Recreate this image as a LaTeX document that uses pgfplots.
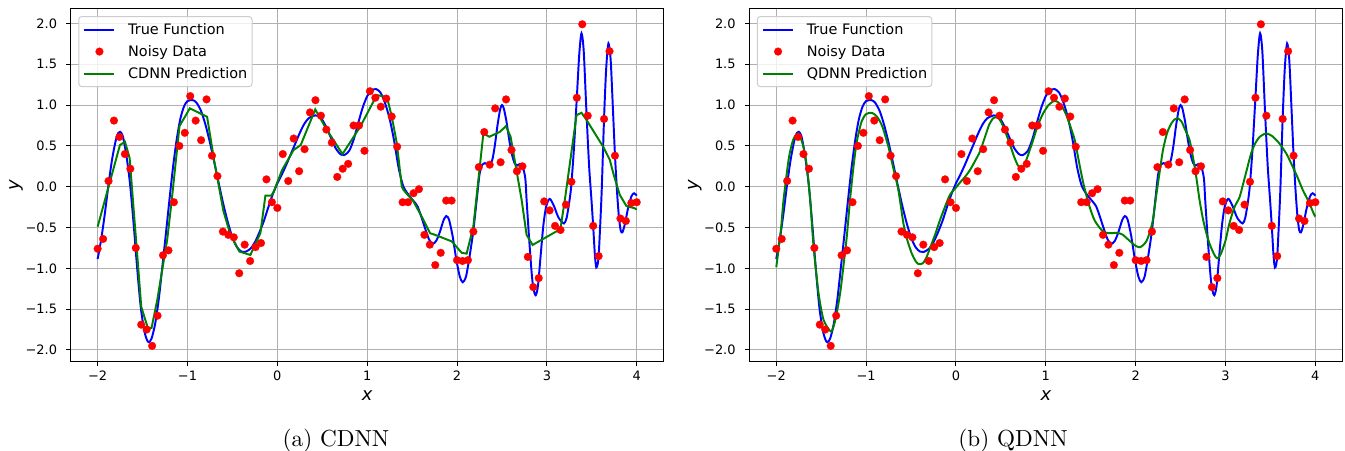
\documentclass[border=0pt]{standalone}
\usepackage{fontspec}
\usepackage{pgfplots}
\usepackage{pgfplotstable}
\pgfplotsset{compat=1.18}
\newfontfamily\mpl{DejaVu Sans}

\definecolor{mplgrid}{HTML}{B0B0B0}
\definecolor{mplgreen}{rgb}{0,0.5,0}
\definecolor{legedge}{HTML}{CCCCCC}

% noisy samples, 100 points on [-2,4]
\pgfplotstableread{
x y
-2.0000 -0.76
-1.9394 -0.64
-1.8788 0.07
-1.8182 0.81
-1.7576 0.61
-1.6970 0.40
-1.6364 0.22
-1.5758 -0.75
-1.5152 -1.69
-1.4545 -1.75
-1.3939 -1.95
-1.3333 -1.58
-1.2727 -0.84
-1.2121 -0.78
-1.1515 -0.19
-1.0909 0.50
-1.0303 0.66
-0.9697 1.11
-0.9091 0.81
-0.8485 0.57
-0.7879 1.07
-0.7273 0.38
-0.6667 0.13
-0.6061 -0.55
-0.5455 -0.59
-0.4848 -0.62
-0.4242 -1.06
-0.3636 -0.71
-0.3030 -0.91
-0.2424 -0.74
-0.1818 -0.69
-0.1212 0.09
-0.0606 -0.19
0.0000 -0.26
0.0606 0.40
0.1212 0.07
0.1818 0.59
0.2424 0.19
0.3030 0.46
0.3636 0.91
0.4242 1.06
0.4848 0.87
0.5455 0.70
0.6061 0.54
0.6667 0.12
0.7273 0.22
0.7879 0.28
0.8485 0.75
0.9091 0.75
0.9697 0.44
1.0303 1.17
1.0909 1.09
1.1515 0.98
1.2121 1.08
1.2727 0.86
1.3333 0.49
1.3939 -0.19
1.4545 -0.19
1.5152 -0.08
1.5758 -0.03
1.6364 -0.59
1.6970 -0.71
1.7576 -0.96
1.8182 -0.81
1.8788 -0.17
1.9394 -0.17
2.0000 -0.90
2.0606 -0.91
2.1212 -0.90
2.1818 -0.55
2.2424 0.24
2.3030 0.67
2.3636 0.27
2.4242 0.96
2.4848 0.30
2.5455 1.07
2.6061 0.45
2.6667 0.19
2.7273 0.25
2.7879 -0.86
2.8485 -1.23
2.9091 -1.12
2.9697 -0.18
3.0303 -0.29
3.0909 -0.48
3.1515 -0.53
3.2121 -0.22
3.2727 0.06
3.3333 1.09
3.3939 1.99
3.4545 0.87
3.5152 -0.48
3.5758 -0.85
3.6364 0.83
3.6970 1.66
3.7576 0.38
3.8182 -0.39
3.8788 -0.42
3.9394 -0.20
4.0000 -0.19
}\noisy

% underlying function
\pgfplotstableread{
x y
-2.00 -0.885
-1.96 -0.64
-1.92 -0.33
-1.88 0.02
-1.84 0.33
-1.80 0.56
-1.77 0.66
-1.75 0.673
-1.72 0.62
-1.68 0.38
-1.64 0.04
-1.60 -0.45
-1.56 -1.00
-1.52 -1.48
-1.48 -1.77
-1.45 -1.88
-1.43 -1.905
-1.40 -1.86
-1.36 -1.68
-1.32 -1.38
-1.28 -0.98
-1.24 -0.57
-1.20 -0.15
-1.16 0.25
-1.12 0.58
-1.08 0.83
-1.04 0.98
-1.00 1.05
-0.94 1.06
-0.90 1.03
-0.85 0.93
-0.80 0.76
-0.75 0.54
-0.70 0.29
-0.65 0.03
-0.60 -0.22
-0.55 -0.44
-0.50 -0.62
-0.45 -0.74
-0.40 -0.795
-0.36 -0.80
-0.30 -0.76
-0.25 -0.68
-0.20 -0.56
-0.15 -0.42
-0.10 -0.25
-0.05 -0.09
0.00 0.04
0.05 0.15
0.10 0.27
0.15 0.40
0.20 0.53
0.25 0.66
0.30 0.77
0.35 0.84
0.42 0.874
0.48 0.85
0.54 0.74
0.60 0.59
0.65 0.47
0.70 0.40
0.745 0.388
0.80 0.44
0.85 0.58
0.90 0.78
0.95 0.97
1.00 1.11
1.05 1.18
1.10 1.196
1.15 1.15
1.20 1.02
1.25 0.83
1.30 0.56
1.35 0.23
1.40 0.01
1.46 -0.10
1.52 -0.18
1.56 -0.24
1.60 -0.36
1.65 -0.53
1.69 -0.65
1.73 -0.70
1.77 -0.66
1.81 -0.55
1.85 -0.41
1.88 -0.36
1.91 -0.40
1.95 -0.60
1.99 -0.88
2.03 -1.10
2.063 -1.17
2.10 -1.10
2.14 -0.85
2.18 -0.55
2.22 -0.15
2.25 0.15
2.28 0.27
2.31 0.29
2.35 0.27
2.39 0.32
2.42 0.50
2.45 0.75
2.48 0.95
2.50 1.00
2.52 0.96
2.55 0.80
2.58 0.58
2.61 0.40
2.64 0.29
2.67 0.26
2.70 0.28
2.73 0.25
2.76 0.10
2.774 -0.16
2.80 -0.60
2.83 -1.05
2.85 -1.25
2.875 -1.33
2.90 -1.22
2.93 -0.85
2.96 -0.48
2.99 -0.25
3.02 -0.16
3.04 -0.155
3.08 -0.24
3.13 -0.38
3.19 -0.45
3.22 -0.38
3.25 -0.18
3.27 0.00
3.30 0.45
3.333 1.09
3.36 1.62
3.385 1.88
3.41 1.66
3.44 0.92
3.47 0.25
3.496 -0.16
3.515 -0.48
3.535 -0.85
3.55 -0.99
3.565 -0.95
3.576 -0.85
3.59 -0.55
3.61 -0.05
3.636 0.83
3.66 1.45
3.685 1.755
3.71 1.55
3.735 0.95
3.758 0.38
3.78 -0.05
3.80 -0.35
3.82 -0.53
3.84 -0.56
3.87 -0.45
3.90 -0.28
3.94 -0.12
3.97 -0.08
4.00 -0.11
}\truefn

% classical network output (piecewise linear)
\pgfplotstableread{
x y
-2.000 -0.49
-1.752 0.51
-1.696 0.55
-1.644 0.35
-1.552 -0.94
-1.515 -1.47
-1.456 -1.68
-1.440 -1.73
-1.400 -1.73
-1.337 -1.39
-1.226 -0.65
-1.175 -0.16
-1.089 0.743
-0.974 0.96
-0.782 0.857
-0.700 0.30
-0.600 -0.30
-0.522 -0.59
-0.422 -0.795
-0.300 -0.836
-0.189 -0.57
-0.133 -0.11
-0.067 -0.11
-0.040 -0.06
0.052 0.204
0.181 0.45
0.260 0.51
0.422 0.947
0.552 0.694
0.725 0.40
0.922 0.734
1.107 1.122
1.219 1.10
1.274 0.857
1.330 0.53
1.385 0.00
1.404 -0.04
1.515 -0.18
1.607 -0.367
1.700 -0.57
1.756 -0.59
1.941 -0.67
2.052 -0.81
2.107 -0.82
2.181 -0.49
2.237 0.08
2.293 0.653
2.359 0.612
2.478 0.673
2.544 0.743
2.596 0.612
2.719 -0.163
2.774 -0.59
2.841 -0.714
3.070 -0.57
3.150 -0.52
3.200 -0.16
3.330 0.877
3.385 0.906
3.440 0.82
3.626 0.49
3.700 0.33
3.740 0.16
3.811 -0.10
3.885 -0.236
3.978 -0.265
4.000 -0.28
}\cdnn

% quantum network output (smooth)
\pgfplotstableread{
x y
-2.000 -0.987
-1.950 -0.55
-1.919 -0.163
-1.860 0.35
-1.810 0.58
-1.752 0.653
-1.700 0.50
-1.659 0.245
-1.622 -0.163
-1.585 -0.73
-1.530 -1.30
-1.474 -1.63
-1.389 -1.775
-1.340 -1.62
-1.289 -1.305
-1.250 -0.95
-1.215 -0.61
-1.178 -0.15
-1.140 0.25
-1.104 0.55
-1.050 0.80
-1.000 0.89
-0.937 0.906
-0.880 0.86
-0.820 0.74
-0.752 0.49
-0.700 0.24
-0.641 -0.04
-0.585 -0.448
-0.540 -0.66
-0.493 -0.815
-0.450 -0.91
-0.419 -0.946
-0.370 -0.94
-0.330 -0.87
-0.289 -0.754
-0.230 -0.58
-0.178 -0.41
-0.120 -0.24
-0.067 -0.10
0.000 -0.01
0.044 0.05
0.100 0.12
0.156 0.204
0.210 0.31
0.267 0.43
0.320 0.60
0.370 0.76
0.415 0.84
0.460 0.85
0.500 0.80
0.550 0.67
0.600 0.52
0.650 0.36
0.690 0.26
0.725 0.225
0.760 0.26
0.800 0.38
0.859 0.572
0.910 0.75
0.970 0.898
1.030 1.00
1.089 1.049
1.130 1.04
1.170 1.00
1.220 0.90
1.270 0.75
1.322 0.572
1.370 0.30
1.420 0.03
1.480 -0.22
1.530 -0.38
1.563 -0.448
1.620 -0.53
1.667 -0.563
1.720 -0.57
1.780 -0.565
1.830 -0.575
1.859 -0.59
1.900 -0.63
1.950 -0.68
2.000 -0.725
2.044 -0.742
2.080 -0.72
2.119 -0.67
2.160 -0.55
2.193 -0.40
2.230 -0.10
2.267 0.18
2.304 0.45
2.350 0.66
2.400 0.78
2.440 0.83
2.470 0.837
2.510 0.80
2.550 0.70
2.600 0.572
2.640 0.35
2.680 0.08
2.711 -0.163
2.750 -0.40
2.785 -0.56
2.820 -0.69
2.859 -0.795
2.890 -0.86
2.915 -0.877
2.950 -0.82
3.000 -0.66
3.044 -0.448
3.100 -0.25
3.156 -0.13
3.200 0.05
3.240 0.22
3.285 0.408
3.330 0.53
3.380 0.61
3.452 0.653
3.520 0.62
3.600 0.53
3.680 0.40
3.748 0.245
3.800 0.12
3.860 -0.04
3.920 -0.17
3.989 -0.347
4.000 -0.36
}\qdnn

\pgfplotsset{
  mplaxis/.style={
    scale only axis, width=593bp, height=353.4bp,
    xmin=-2.3, xmax=4.3, ymin=-2.144, ymax=2.186,
    xtick={-2,-1,0,1,2,3,4},
    xticklabels={−2,−1,0,1,2,3,4},
    ytick={-2,-1.5,-1,-0.5,0,0.5,1,1.5,2},
    yticklabels={−2.0,−1.5,−1.0,−0.5,0.0,0.5,1.0,1.5,2.0},
    tick align=outside, tick pos=left,
    major tick length=4.5bp,
    every tick/.style={black, line width=1.04bp},
    axis line style={line width=1.04bp},
    grid=major,
    major grid style={mplgrid, line width=1.04bp},
    ticklabel style={font=\mpl\fontsize{13}{15}\selectfont},
    xticklabel style={inner sep=0pt, anchor=north, yshift=-4.5bp},
    yticklabel style={inner sep=0pt, anchor=east, xshift=-9bp},
    label style={font=\mpl\itshape\fontsize{18}{20}\selectfont},
    xlabel={x}, ylabel={y},
    xlabel style={at={(axis description cs:0.5,-0.097)}, anchor=center},
    ylabel style={at={(axis description cs:-0.092,0.5)}, anchor=center},
    legend image code/.code={%
      \draw[mark repeat=2,mark phase=2,#1,fill opacity=1,draw opacity=1]
        plot coordinates {(0bp,0bp) (15bp,0bp) (30bp,0bp)};},
    legend style={
      at={(axis description cs:0.0128,0.978)}, anchor=north west,
      draw=legedge, line width=1bp, fill=white, fill opacity=0.8,
      text opacity=1, rounded corners=3bp,
      font=\mpl\fontsize{14.5}{17}\selectfont,
      inner xsep=4.7bp, inner ysep=2bp,
      column sep=12.7bp, row sep=0bp,
      cells={anchor=west},
      nodes={inner sep=0pt, text depth=},
    },
  },
  truestyle/.style={blue, line width=1.95bp, mark=none},
  datastyle/.style={red, only marks, mark=*, mark size=3.9bp,
    mark options={solid, fill=red, draw=red, line width=0.2bp,
      fill opacity=1, draw opacity=1}},
  predstyle/.style={mplgreen, line width=1.95bp, mark=none},
}

\newcommand\lstrut{\rule[-5.6bp]{0pt}{22bp}}

\begin{document}
\begin{tikzpicture}
\useasboundingbox (0,0) rectangle (1345bp,451bp);

\begin{axis}[mplaxis, at={(70.7bp,89.3bp)}, anchor=south west]
  \addplot[datastyle, forget plot] table {\noisy};
  \addplot[truestyle, smooth, tension=0.45, forget plot] table {\truefn};
  \addplot[predstyle, forget plot] table {\cdnn};
  \addlegendimage{truestyle}
  \addlegendentry{\lstrut True Function}
  \addlegendimage{datastyle}
  \addlegendentry{\lstrut Noisy Data}
  \addlegendimage{predstyle}
  \addlegendentry{\lstrut CDNN Prediction}
\end{axis}

\begin{axis}[mplaxis, at={(749.3bp,89.3bp)}, anchor=south west]
  \addplot[datastyle, forget plot] table {\noisy};
  \addplot[truestyle, smooth, tension=0.45, forget plot] table {\truefn};
  \addplot[predstyle, smooth, tension=0.4, forget plot] table {\qdnn};
  \addlegendimage{truestyle}
  \addlegendentry{\lstrut True Function}
  \addlegendimage{datastyle}
  \addlegendentry{\lstrut Noisy Data}
  \addlegendimage{predstyle}
  \addlegendentry{\lstrut QDNN Prediction}
\end{axis}

\node[anchor=base, scale=2.33, transform shape] at (336bp,4.5bp) {(a) CDNN};
\node[anchor=base, scale=2.33, transform shape] at (1013bp,4.5bp) {(b) QDNN};
\end{tikzpicture}
\end{document}
